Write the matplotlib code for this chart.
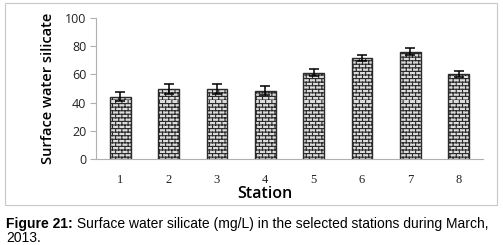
import numpy as np
import matplotlib
matplotlib.use("Agg")
import matplotlib.pyplot as plt
import matplotlib.hatch as mhatch
from matplotlib.path import Path
from matplotlib.patches import Rectangle
import warnings
warnings.filterwarnings("ignore")

# ---- data ----
stations = ["1", "2", "3", "4", "5", "6", "7", "8"]
silicate = [44.2, 49.4, 49.5, 48.4, 61.3, 71.6, 76.2, 60.3]
errors = [3.0, 3.6, 3.4, 3.1, 2.2, 2.0, 2.3, 2.0]
y_ticks = [0, 20, 40, 60, 80, 100]


# ---- custom brick hatch, triggered by 'b' ----
class BrickHatch(mhatch.HatchPatternBase):
    def __init__(self, hatch, density):
        n = hatch.count('b')
        self.rows = 28 * n
        self.cols = 16 * n
        self.num_vertices = (self.rows * 2 + self.rows * self.cols * 2) if n else 0

    def set_vertices_and_codes(self, vertices, codes):
        R, C = self.rows, self.cols
        h = 1.0 / R
        w = 1.0 / C
        k = 0
        for i in range(R):
            y = i * h
            vertices[k] = (0.0, y); codes[k] = Path.MOVETO; k += 1
            vertices[k] = (1.0, y); codes[k] = Path.LINETO; k += 1
        for i in range(R):
            y0 = i * h
            off = (w / 2.0) if i % 2 else 0.0
            for j in range(C):
                xx = (j * w + off) % 1.0
                vertices[k] = (xx, y0); codes[k] = Path.MOVETO; k += 1
                vertices[k] = (xx, y0 + h); codes[k] = Path.LINETO; k += 1


mhatch._hatch_types.append(BrickHatch)

plt.rcParams['hatch.linewidth'] = 0.8

fig = plt.figure(figsize=(5.03, 2.45), dpi=100)
fig.patch.set_facecolor("white")

# outer frame
fig.patches.append(Rectangle((5 / 503, 1 - 205 / 245), 492 / 503, 202 / 245,
                             transform=fig.transFigure, fill=False,
                             edgecolor="#c8c8c8", linewidth=0.8))

ax = fig.add_axes([96 / 503, 1 - 159 / 245, 387 / 503, 141 / 245])
x = np.arange(len(stations))
ax.bar(x, silicate, width=0.43, facecolor="#dcdcdc", edgecolor="#2a2a2a",
       hatch="b", linewidth=1.0, zorder=2)
ax.errorbar(x, silicate, yerr=errors, fmt="none", ecolor="black",
            elinewidth=1.1, capsize=3.5, capthick=1.1, zorder=3)

ax.set_xlim(-0.5, len(stations) - 0.5)
ax.set_ylim(0, 100)
ax.set_yticks(y_ticks)
ax.set_yticklabels([str(v) for v in y_ticks], fontsize=9, family="Open Sans",
                   color="#222222")
ax.set_xticks(x)
ax.set_xticklabels(stations, fontsize=9, family="Liberation Serif", color="#222222")
ax.tick_params(axis='y', length=4, width=0.8, color="#b0b0b0", pad=3)
ax.tick_params(axis='x', length=0, pad=11)

for s in ["top", "right"]:
    ax.spines[s].set_visible(False)
ax.spines["left"].set_color("#b0b0b0")
ax.spines["bottom"].set_color("#b0b0b0")
ax.spines["left"].set_linewidth(0.8)
ax.spines["bottom"].set_linewidth(0.8)

ax.set_ylabel("Surface water silicate", fontsize=10.5, family="Open Sans",
              fontweight="semibold", labelpad=7)
fig.text(265 / 503, 1 - 194 / 245, "Station", fontsize=11.5, family="Open Sans",
         fontweight="semibold", ha="center", va="center")

# caption
t1 = fig.text(6 / 503, 1 - 228 / 245, "Figure 21:", fontsize=10,
              family="Liberation Sans", fontweight="bold", ha="left", va="baseline")
ax.annotate(" Surface water silicate (mg/L) in the selected stations during March,",
            xy=(1, 0), xycoords=t1, ha="left", va="bottom", fontsize=10,
            family="Liberation Sans", annotation_clip=False)
fig.text(6 / 503, 1 - 242 / 245, "2013.", fontsize=10, family="Liberation Sans",
         ha="left", va="baseline")

fig.savefig("out.png", dpi=100)
